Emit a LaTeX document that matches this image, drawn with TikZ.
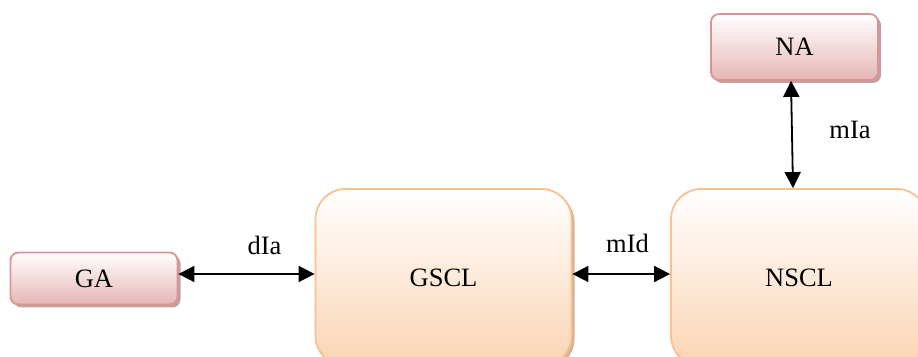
\documentclass[tikz,border=0pt]{standalone}
\usepackage{fontspec}
\setmainfont{Liberation Serif}
\usetikzlibrary{arrows.meta,shadows}
\definecolor{pinkborder}{HTML}{D99594}
\definecolor{pinkfill}{HTML}{E6B6B5}
\definecolor{pinkshadow}{HTML}{B08A8A}
\definecolor{orangeborder}{HTML}{FAC090}
\definecolor{orangefill}{HTML}{FBD4B4}
\definecolor{orangeshadow}{HTML}{C8A080}
\tikzset{
  x=1pt, y=1pt,
  txt/.style={font=\fontsize{26.5}{31}\selectfont, inner sep=0pt},
  smallbox/.style={draw=pinkborder, line width=1.8pt, rounded corners=8pt,
    top color=white, bottom color=pinkfill, minimum width=167pt, minimum height=52pt,
    txt, drop shadow={shadow xshift=3pt, shadow yshift=-3pt, fill=pinkshadow, opacity=0.8}},
  bigbox/.style={draw=orangeborder, line width=1.8pt, rounded corners=30pt,
    top color=white, bottom color=orangefill, minimum width=256pt, minimum height=177pt,
    txt, drop shadow={shadow xshift=3pt, shadow yshift=-3pt, fill=orangeshadow, opacity=0.8}},
  arr/.style={{Triangle[length=16pt,width=16pt]}-{Triangle[length=16pt,width=16pt]}, line width=1.8pt, black},
  lbl/.style={txt}
}
\begin{document}
\begin{tikzpicture}
\useasboundingbox (0,0) rectangle (918,356);
\node[smallbox] (GA) at (94,77.5) {GA};
\node[smallbox, minimum height=66pt] (NA) at (794.5,309) {NA};
\node[bigbox] (GSCL) at (443.5,78.5) {GSCL};
\node[bigbox] (NSCL) at (799,78.5) {NSCL};
\draw[arr] (GA.east |- 0,82) -- (GSCL.west |- 0,82);
\draw[arr] (GSCL.east |- 0,82) -- (NSCL.west |- 0,82);
\draw[arr] ([xshift=-3.5pt]NA.south) -- ([xshift=-6pt]NSCL.north);
\node[lbl] (dIa) at (264.5,111) {dIa};
\node[lbl] (mId) at (627.5,113) {mId};
\node[lbl] (mIa) at (850,226) {mIa};
\end{tikzpicture}
\end{document}
